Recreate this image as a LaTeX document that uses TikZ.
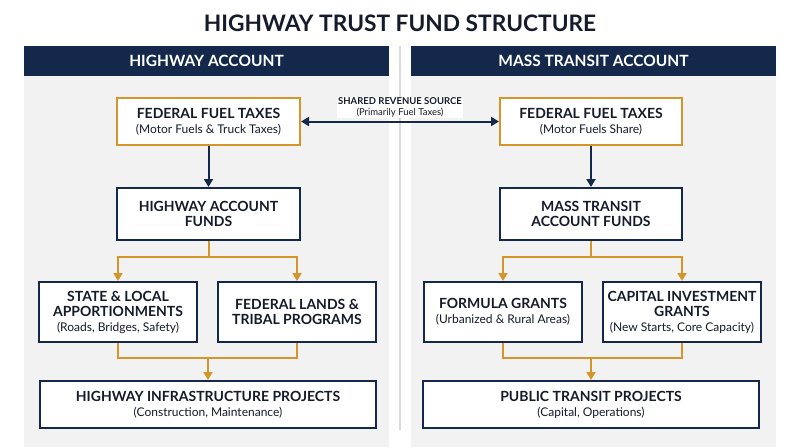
\documentclass[tikz,border=0pt]{standalone}
\usepackage{fontspec}
\setmainfont{Lato}
\usetikzlibrary{arrows.meta}
\definecolor{navy}{HTML}{14284B}
\definecolor{gold}{HTML}{D4952B}
\definecolor{panelbg}{HTML}{F2F2F2}
\definecolor{divider}{HTML}{DADADA}
\definecolor{ink}{HTML}{151B2B}
\tikzset{
  hdrtext/.style={text=white, font=\bfseries\fontsize{15.5}{17}\selectfont},
  navybox/.style={draw=navy, line width=2pt, fill=white, align=center, text=ink, font=\fontsize{14}{15}\selectfont},
  goldbox/.style={draw=gold, line width=2pt, fill=white, align=center, text=ink, font=\fontsize{14}{15}\selectfont},
  navyarrow/.style={draw=navy, line width=2pt, -{Triangle[width=9pt,length=8pt]}},
  goldline/.style={draw=gold, line width=2pt},
  goldarrow/.style={draw=gold, line width=2pt, -{Triangle[width=9pt,length=8pt]}},
}
\newcommand{\bt}[1]{{\bfseries #1}}
\newcommand{\st}[1]{{\fontsize{12}{15}\selectfont #1}}
\begin{document}
\begin{tikzpicture}[x=1pt,y=-1pt]
\useasboundingbox (0,0) rectangle (800,447);
\fill[white] (0,0) rectangle (800,447);
% title
\node[font=\bfseries\fontsize{22.7}{24}\selectfont, text=ink] (title) at (400,23.5) {HIGHWAY TRUST FUND STRUCTURE};
% panels
\fill[panelbg] (24,76) rectangle (389,447);
\fill[panelbg] (411,76) rectangle (776,447);
\fill[navy] (24,46) rectangle (389,76);
\fill[navy] (411,46) rectangle (776,76);
\node[hdrtext] (hl) at (206.5,61) {HIGHWAY ACCOUNT};
\node[hdrtext] (hr) at (593.5,61) {MASS TRANSIT ACCOUNT};
% divider
\draw[divider, line width=1.5pt] (400,46) -- (400,430);
% left column
\node[goldbox, minimum width=183pt, minimum height=47pt] (lfft) at (208.5,121.5) {\bt{FEDERAL FUEL TAXES}\\\st{(Motor Fuels \& Truck Taxes)}};
\node[navybox, minimum width=183pt, minimum height=52pt] (haf) at (208.5,214) {\bt{HIGHWAY ACCOUNT}\\\bt{FUNDS}};
\node[navybox, minimum width=158pt, minimum height=60pt] (sla) at (118,312) {\bt{STATE \& LOCAL}\\\bt{APPORTIONMENTS}\\\st{(Roads, Bridges, Safety)}};
\node[navybox, minimum width=158pt, minimum height=60pt] (flt) at (297,312) {\bt{FEDERAL LANDS \&}\\\bt{TRIBAL PROGRAMS}};
\node[navybox, minimum width=336pt, minimum height=47pt] (hip) at (208,404.5) {\bt{HIGHWAY INFRASTRUCTURE PROJECTS}\\\st{(Construction, Maintenance)}};
% right column
\node[goldbox, minimum width=182pt, minimum height=47pt] (rfft) at (591,121.5) {\bt{FEDERAL FUEL TAXES}\\\st{(Motor Fuels Share)}};
\node[navybox, minimum width=182pt, minimum height=52pt] (mtaf) at (591,214) {\bt{MASS TRANSIT}\\\bt{ACCOUNT FUNDS}};
\node[navybox, minimum width=158pt, minimum height=60pt] (fg) at (503,312) {\bt{FORMULA GRANTS}\\\st{(Urbanized \& Rural Areas)}};
\node[navybox, minimum width=158pt, minimum height=60pt] (cig) at (682,312) {\bt{CAPITAL INVESTMENT}\\\bt{GRANTS}\\\st{(New Starts, Core Capacity)}};
\node[navybox, minimum width=336pt, minimum height=47pt] (ptp) at (591,404.5) {\bt{PUBLIC TRANSIT PROJECTS}\\\st{(Capital, Operations)}};
% shared revenue
\node[fill=white, inner sep=1pt, align=center, text=ink, font=\fontsize{9.5}{11}\selectfont] (shared) at (400,107.5) {\bfseries SHARED REVENUE SOURCE\\(Primarily Fuel Taxes)};
\draw[draw=navy, line width=2pt, {Triangle[width=9pt,length=8pt]}-{Triangle[width=9pt,length=8pt]}] (lfft.east) -- (rfft.west);
% left connectors
\draw[navyarrow] (lfft.south) -- (haf.north);
\coordinate (lsplit) at (208.5,257);
\draw[goldline] (haf.south) -- (lsplit);
\draw[goldarrow] (lsplit) -| (sla.north);
\draw[goldarrow] (lsplit) -| (flt.north);
\coordinate (lmerge) at (208,358);
\draw[goldline] (sla.south) |- (lmerge);
\draw[goldline] (flt.south) |- (lmerge);
\draw[goldarrow] (lmerge) -- (hip.north);
% right connectors
\draw[navyarrow] (rfft.south) -- (mtaf.north);
\coordinate (rsplit) at (591,257);
\draw[goldline] (mtaf.south) -- (rsplit);
\draw[goldarrow] (rsplit) -| (fg.north);
\draw[goldarrow] (rsplit) -| (cig.north);
\coordinate (rmerge) at (591,358);
\draw[goldline] (fg.south) |- (rmerge);
\draw[goldline] (cig.south) |- (rmerge);
\draw[goldarrow] (rmerge) -- (ptp.north);
\end{tikzpicture}
\end{document}
